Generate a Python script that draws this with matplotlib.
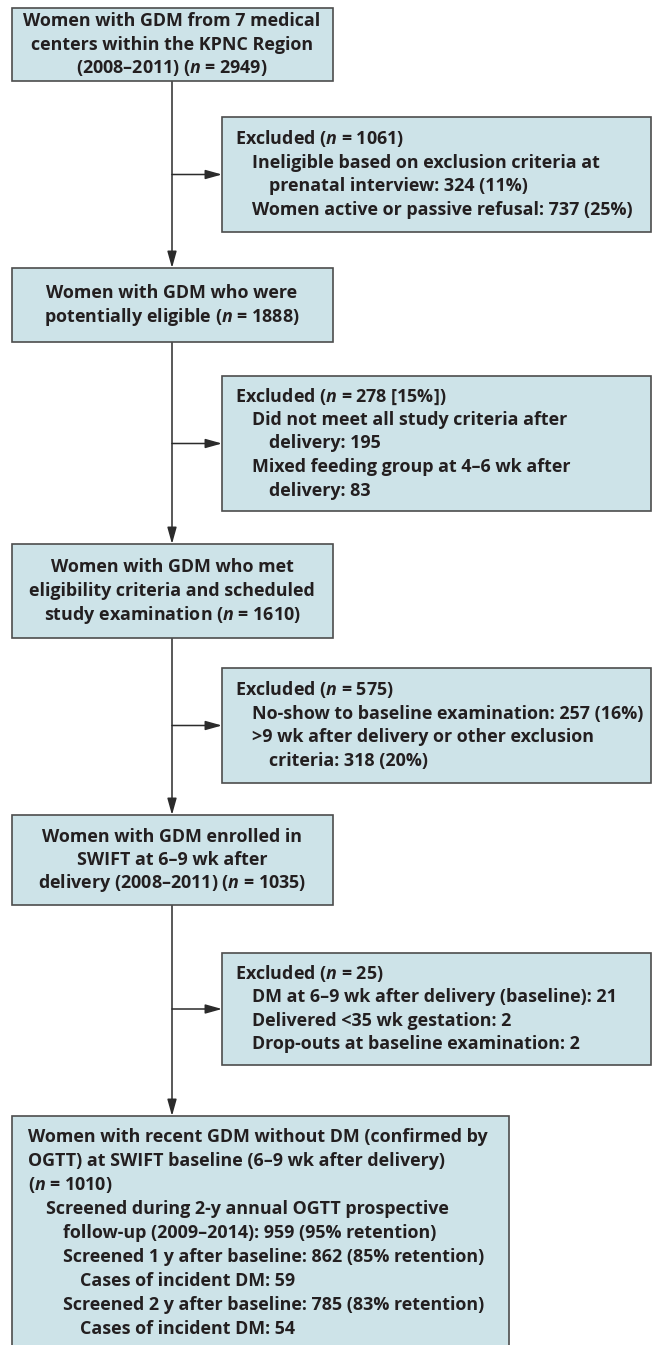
import matplotlib.pyplot as plt
from matplotlib.patches import Rectangle

plt.rcParams['font.family'] = ['Open Sans', 'DejaVu Sans']
plt.rcParams['mathtext.fontset'] = 'custom'
plt.rcParams['mathtext.rm'] = 'Open Sans:bold'
plt.rcParams['mathtext.it'] = 'Open Sans:italic:bold'

# main column boxes (top to bottom)
main_text = [
    ["Women with GDM from 7 medical",
     "centers within the KPNC Region",
     "(2008–2011) ($n$ = 2949)"],
    ["Women with GDM who were",
     "potentially eligible ($n$ = 1888)"],
    ["Women with GDM who met",
     "eligibility criteria and scheduled",
     "study examination ($n$ = 1610)"],
    ["Women with GDM enrolled in",
     "SWIFT at 6–9 wk after",
     "delivery (2008–2011) ($n$ = 1035)"],
]

# exclusion boxes: (indent level, text)
excl_text = [
    [(0, "Excluded ($n$ = 1061)"),
     (1, "Ineligible based on exclusion criteria at"),
     (2, "prenatal interview: 324 (11%)"),
     (1, "Women active or passive refusal: 737 (25%)")],
    [(0, "Excluded ($n$ = 278 [15%])"),
     (1, "Did not meet all study criteria after"),
     (2, "delivery: 195"),
     (1, "Mixed feeding group at 4–6 wk after"),
     (2, "delivery: 83")],
    [(0, "Excluded ($n$ = 575)"),
     (1, "No-show to baseline examination: 257 (16%)"),
     (1, ">9 wk after delivery or other exclusion"),
     (2, "criteria: 318 (20%)")],
    [(0, "Excluded ($n$ = 25)"),
     (1, "DM at 6–9 wk after delivery (baseline): 21"),
     (1, "Delivered <35 wk gestation: 2"),
     (1, "Drop-outs at baseline examination: 2")],
]

final_text = [
    (0, "Women with recent GDM without DM (confirmed by"),
    (0, "OGTT) at SWIFT baseline (6–9 wk after delivery)"),
    (0, "($n$ = 1010)"),
    (1, "Screened during 2-y annual OGTT prospective"),
    (2, "follow-up (2009–2014): 959 (95% retention)"),
    (2, "Screened 1 y after baseline: 862 (85% retention)"),
    (3, "Cases of incident DM: 59"),
    (2, "Screened 2 y after baseline: 785 (83% retention)"),
    (3, "Cases of incident DM: 54"),
]

# layout in pixels
main_y = [(8, 81), (268, 342), (544, 638), (815, 905)]
excl_y = [(117, 232), (376, 511), (668, 783), (953, 1065)]
final_y = (1116, 1360)
main_x = (12, 333)
final_x = (12, 509)
excl_x = (222, 651)
trunk_x = 172

fill = '#cde3e8'
edge = '#4d4d4d'
txt = '#231f20'
fs = 12.9
step = 23.5

fig = plt.figure(figsize=(6.52, 13.45), dpi=100)
ax = fig.add_axes([0, 0, 1, 1])
ax.set_xlim(0, 652)
ax.set_ylim(1345, 0)
ax.axis('off')


def box(x0, x1, y0, y1):
    ax.add_patch(Rectangle((x0, y0), x1 - x0, y1 - y0, facecolor=fill,
                           edgecolor=edge, linewidth=1.2, zorder=2))


def arrow(x0, y0, x1, y1):
    ax.annotate('', xy=(x1, y1), xytext=(x0, y0),
                arrowprops=dict(arrowstyle='-|>,head_length=1.0,head_width=0.28',
                                color='#2b2b2b', lw=1.1,
                                shrinkA=0, shrinkB=0), zorder=1)


for lines, (y0, y1) in zip(main_text, main_y):
    box(main_x[0], main_x[1], y0, y1)
    mid = (y0 + y1) / 2
    for i, s in enumerate(lines):
        y = mid + (i - (len(lines) - 1) / 2) * step + 5
        ax.text(trunk_x, y, s, ha='center', va='baseline', fontsize=fs,
                fontweight='bold', color=txt, zorder=3)

for lines, (y0, y1) in zip(excl_text, excl_y):
    box(excl_x[0], excl_x[1], y0, y1)
    mid = (y0 + y1) / 2
    for i, (lvl, s) in enumerate(lines):
        y = mid + (i - (len(lines) - 1) / 2) * step + 5
        ax.text(235 + 17 * lvl, y, s, ha='left', va='baseline', fontsize=fs,
                fontweight='bold', color=txt, zorder=3)
    arrow(trunk_x, mid, excl_x[0], mid)

box(final_x[0], final_x[1], final_y[0], final_y[1])
for i, (lvl, s) in enumerate(final_text):
    y = 1137 + i * 24 + 5
    ax.text(28 + 17.5 * lvl, y, s, ha='left', va='baseline', fontsize=fs,
            fontweight='bold', color=txt, zorder=3)

# vertical trunk with arrows into each next box
tops = [b[0] for b in main_y[1:]] + [final_y[0]]
bottoms = [b[1] for b in main_y]
for b, t in zip(bottoms, tops):
    arrow(trunk_x, b, trunk_x, t)

fig.savefig('out.png', dpi=100)
